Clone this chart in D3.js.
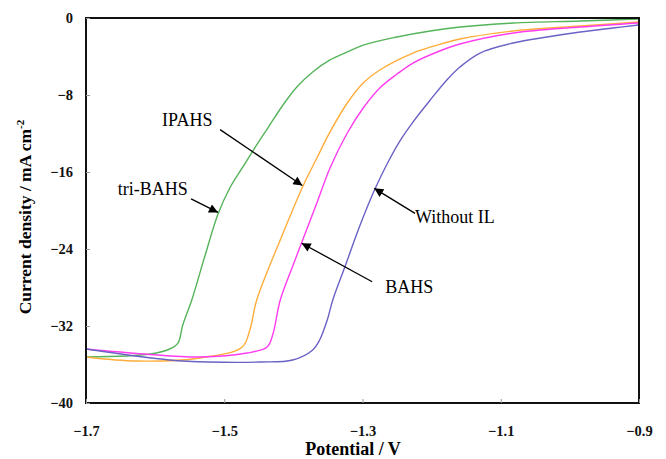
<!DOCTYPE html>
<html>
<head>
<meta charset="utf-8">
<script src="https://cdn.jsdelivr.net/npm/d3@7"></script>
<style>
  body { margin: 0; background: #fff; }
  text { font-family: "Liberation Serif", "Times New Roman", serif; }
</style>
</head>
<body>
<div id="chart"></div>
<script>
// potential (V) / current density (mA cm-2)
const triBAHS_V = [-1.700, -1.607, -1.579, -1.567, -1.560, -1.547, -1.528, -1.509, -1.492, -1.474, -1.456, -1.437, -1.416, -1.395, -1.372, -1.347, -1.322, -1.299, -1.250, -1.202, -1.159, -1.082, -0.985, -0.900];
const triBAHS_I = [-35.22, -34.91, -34.39, -33.77, -31.90, -29.30, -24.73, -20.36, -17.66, -15.58, -13.51, -11.43, -9.14, -7.17, -5.61, -4.36, -3.53, -2.81, -1.97, -1.35, -0.94, -0.52, -0.31, -0.10];

const IPAHS_V = [-1.700, -1.626, -1.535, -1.474, -1.463, -1.453, -1.419, -1.386, -1.366, -1.347, -1.322, -1.299, -1.275, -1.227, -1.192, -1.159, -1.082, -0.985, -0.901];
const IPAHS_I = [-35.22, -35.64, -35.32, -34.18, -32.42, -29.30, -23.06, -17.45, -14.55, -11.84, -8.83, -6.75, -5.40, -3.64, -2.81, -2.18, -1.35, -0.83, -0.42];

const BAHS_V = [-1.700, -1.615, -1.535, -1.467, -1.438, -1.430, -1.419, -1.402, -1.386, -1.366, -1.347, -1.322, -1.299, -1.275, -1.250, -1.227, -1.192, -1.159, -1.082, -0.985, -0.901];
const BAHS_I = [-34.39, -34.91, -35.22, -34.81, -34.18, -32.94, -29.30, -25.97, -22.96, -19.22, -15.58, -11.95, -9.35, -7.27, -5.82, -4.68, -3.53, -2.70, -1.56, -0.94, -0.52];

const noIL_V = [-1.700, -1.579, -1.521, -1.448, -1.401, -1.372, -1.362, -1.351, -1.343, -1.325, -1.304, -1.282, -1.263, -1.246, -1.227, -1.202, -1.178, -1.159, -1.130, -1.082, -1.033, -0.985, -0.938, -0.901];
const noIL_I = [-34.39, -35.53, -35.74, -35.74, -35.53, -34.49, -33.45, -31.38, -29.30, -25.77, -21.61, -17.77, -14.96, -12.78, -10.81, -8.52, -6.44, -5.09, -3.64, -2.60, -1.97, -1.45, -1.04, -0.73];

const xTicks = [-1.7, -1.5, -1.3, -1.1, -0.9];
const yTicks = [0, -8, -16, -24, -32, -40];

const series = [
  { name: "tri-BAHS", v: triBAHS_V, i: triBAHS_I, color: "#55b45a" },
  { name: "IPAHS", v: IPAHS_V, i: IPAHS_I, color: "#ffad3a" },
  { name: "BAHS", v: BAHS_V, i: BAHS_I, color: "#ff3cf0" },
  { name: "Without IL", v: noIL_V, i: noIL_I, color: "#6a62c4" }
];

// labels: text position, arrow start and arrow tip in data units
const notes = [
  { text: "IPAHS", tx: -1.590, ty: -11.2, from: [-1.506, -11.6], to: [-1.387, -17.4] },
  { text: "tri-BAHS", tx: -1.654, ty: -18.4, from: [-1.548, -18.8], to: [-1.509, -20.2] },
  { text: "BAHS", tx: -1.267, ty: -28.6, from: [-1.286, -27.4], to: [-1.388, -23.4] },
  { text: "Without IL", tx: -1.224, ty: -21.3, from: [-1.224, -20.3], to: [-1.283, -17.7] }
];

const width = 666, height = 459;
const margin = { left: 86, right: 27, top: 18, bottom: 56 };

const svg = d3.select("#chart").append("svg")
  .attr("width", width)
  .attr("height", height);

const x = d3.scaleLinear().domain([-1.7, -0.9]).range([margin.left, width - margin.right]);
const y = d3.scaleLinear().domain([0, -40]).range([margin.top, height - margin.bottom]);

// curves
const line = d3.line()
  .x(d => x(d[0]))
  .y(d => y(d[1]))
  .curve(d3.curveCatmullRom.alpha(0.5));

svg.selectAll("path.curve")
  .data(series)
  .join("path")
  .attr("class", "curve")
  .attr("fill", "none")
  .attr("stroke", d => d.color)
  .attr("stroke-width", 1.4)
  .attr("d", d => line(d.v.map((v, k) => [v, d.i[k]])));

// frame
svg.append("rect")
  .attr("x", x(-1.7))
  .attr("y", y(0))
  .attr("width", x(-0.9) - x(-1.7))
  .attr("height", y(-40) - y(0))
  .attr("fill", "none")
  .attr("stroke", "#111")
  .attr("stroke-width", 2);

// axes, ticks inside
const xAxis = svg.append("g")
  .attr("transform", `translate(0,${y(-40)})`)
  .call(d3.axisBottom(x).tickValues(xTicks).tickSize(-4).tickPadding(23).tickFormat(d3.format(".1f")));
const yAxis = svg.append("g")
  .attr("transform", `translate(${x(-1.7)},0)`)
  .call(d3.axisLeft(y).tickValues(yTicks).tickSize(-4).tickPadding(13).tickFormat(d3.format("d")));

[xAxis, yAxis].forEach(g => {
  g.select(".domain").remove();
  g.selectAll(".tick line").attr("stroke", "#999").attr("stroke-width", 1);
  g.selectAll(".tick text")
    .attr("fill", "#111")
    .style("font-family", "'Liberation Serif', serif")
    .style("font-weight", "bold")
    .style("font-size", "14.5px");
});

// axis titles
svg.append("text")
  .attr("x", 353)
  .attr("y", 455)
  .attr("text-anchor", "middle")
  .style("font-weight", "bold")
  .style("font-size", "18px")
  .text("Potential / V");

const yTitle = svg.append("text")
  .attr("transform", "translate(31,217) rotate(-90)")
  .attr("text-anchor", "middle")
  .style("font-weight", "bold")
  .style("font-size", "17.5px");
yTitle.append("tspan").text("Current density / mA cm");
yTitle.append("tspan").attr("dy", -7).style("font-size", "11px").text("-2");

// annotations
svg.append("defs").append("marker")
  .attr("id", "head")
  .attr("viewBox", "0 0 10 10")
  .attr("refX", 10)
  .attr("refY", 5)
  .attr("markerWidth", 10)
  .attr("markerHeight", 9)
  .attr("markerUnits", "userSpaceOnUse")
  .attr("orient", "auto")
  .append("path")
  .attr("d", "M0,0L10,5L0,10Z")
  .attr("fill", "#000");

svg.selectAll("line.arrow")
  .data(notes)
  .join("line")
  .attr("class", "arrow")
  .attr("x1", d => x(d.from[0]))
  .attr("y1", d => y(d.from[1]))
  .attr("x2", d => x(d.to[0]))
  .attr("y2", d => y(d.to[1]))
  .attr("stroke", "#000")
  .attr("stroke-width", 1.3)
  .attr("marker-end", "url(#head)");

svg.selectAll("text.note")
  .data(notes)
  .join("text")
  .attr("class", "note")
  .attr("x", d => x(d.tx))
  .attr("y", d => y(d.ty))
  .style("font-size", "18px")
  .attr("fill", "#000")
  .text(d => d.text);
</script>
</body>
</html>
